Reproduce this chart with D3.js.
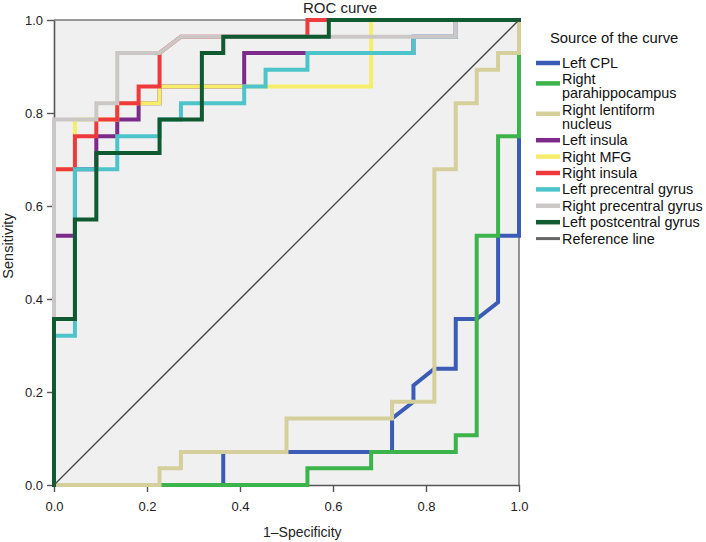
<!DOCTYPE html>
<html>
<head>
<meta charset="utf-8">
<script src="https://cdn.jsdelivr.net/npm/d3@7"></script>
<style>
  html, body { margin: 0; padding: 0; background: #fff; }
  svg { display: block; font-family: "Liberation Sans", Arial, sans-serif; }
</style>
</head>
<body>
<svg id="chart" width="706" height="542"></svg>
<script>
// ---- data (1-specificity, sensitivity) step vertices ----
const leftCPL = [[0,0],[.364,0],[.364,.071],[.727,.071],[.727,.143],[.773,.179],[.773,.214],[.818,.25],[.864,.25],[.864,.357],[.909,.357],[.955,.393],[.955,.536],[1,.536],[1,1]];
const rightParahippocampus = [[0,0],[.545,0],[.545,.036],[.682,.036],[.682,.071],[.864,.071],[.864,.107],[.909,.107],[.909,.536],[.955,.536],[.955,.75],[1,.75],[1,1]];
const rightLentiform = [[0,0],[.227,0],[.227,.036],[.273,.036],[.273,.071],[.5,.071],[.5,.143],[.727,.143],[.727,.179],[.818,.179],[.818,.679],[.864,.679],[.864,.821],[.909,.821],[.909,.893],[.955,.893],[.955,.929],[1,.929],[1,1]];
const leftInsula = [[0,0],[0,.536],[.045,.536],[.045,.679],[.091,.679],[.091,.75],[.136,.75],[.136,.786],[.182,.786],[.182,.821],[.227,.821],[.227,.857],[.409,.857],[.409,.929],[.773,.929],[.773,.964],[.864,.964],[.864,1],[1,1]];
const rightMFG = [[0,0],[0,.679],[.045,.679],[.045,.786],[.136,.786],[.136,.821],[.227,.821],[.227,.857],[.682,.857],[.682,1],[1,1]];
const rightInsula = [[0,0],[0,.679],[.045,.679],[.045,.75],[.091,.75],[.091,.786],[.136,.786],[.136,.821],[.182,.821],[.182,.857],[.227,.857],[.227,.929],[.273,.964],[.545,.964],[.545,1],[1,1]];
const leftPrecentral = [[0,0],[0,.321],[.045,.321],[.045,.679],[.136,.679],[.136,.75],[.227,.75],[.227,.786],[.273,.786],[.273,.821],[.409,.821],[.409,.857],[.455,.857],[.455,.893],[.545,.893],[.545,.929],[.773,.929],[.773,.964],[.864,.964],[.864,1],[1,1]];
const rightPrecentral = [[0,0],[0,.786],[.091,.786],[.091,.821],[.136,.821],[.136,.929],[.227,.929],[.273,.964],[.864,.964],[.864,1],[1,1]];
const leftPostcentral = [[0,0],[0,.357],[.045,.357],[.045,.571],[.091,.571],[.091,.714],[.227,.714],[.227,.786],[.318,.786],[.318,.929],[.364,.929],[.364,.964],[.591,.964],[.591,1],[1,1]];
const referenceLine = [[0,0],[1,1]];

const seriesNames = ["Left CPL","Right parahippocampus","Right lentiform nucleus","Left insula","Right MFG","Right insula","Left precentral gyrus","Right precentral gyrus","Left postcentral gyrus","Reference line"];
const legendLines = [["Left CPL"],["Right","parahippocampus"],["Right lentiform","nucleus"],["Left insula"],["Right MFG"],["Right insula"],["Left precentral gyrus"],["Right precentral gyrus"],["Left postcentral gyrus"],["Reference line"]];
const seriesColors = ["#3a5cb6","#3cb44b","#d5cf9b","#7c2b8b","#f6ee6b","#ee3a3d","#4dc4c9","#cbc7c7","#0f5a30","#444444"];
const seriesData = [leftCPL,rightParahippocampus,rightLentiform,leftInsula,rightMFG,rightInsula,leftPrecentral,rightPrecentral,leftPostcentral,referenceLine];
const tickValues = [0,0.2,0.4,0.6,0.8,1.0];

// ---- layout ----
const svg = d3.select("#chart");
const x = d3.scaleLinear().domain([0,1]).range([54,519]);
const y = d3.scaleLinear().domain([0,1]).range([485,20]);

svg.append("rect").attr("x",x(0)).attr("y",y(1))
  .attr("width",x(1)-x(0)).attr("height",y(0)-y(1)).attr("fill","#f0f0f0");

// frame top/right
svg.append("line").attr("x1",x(0)).attr("x2",x(1)).attr("y1",y(1)).attr("y2",y(1))
  .attr("stroke","#7a7a7a").attr("stroke-width",1.6);
svg.append("line").attr("x1",x(1)).attr("x2",x(1)).attr("y1",y(1)).attr("y2",y(0))
  .attr("stroke","#7a7a7a").attr("stroke-width",1.6);

const xAxis = svg.append("g").attr("transform",`translate(0,${y(0)})`)
  .call(d3.axisBottom(x).tickValues(tickValues).tickFormat(d3.format(".1f")).tickSize(7).tickPadding(10).tickSizeOuter(0));
const yAxis = svg.append("g").attr("transform",`translate(${x(0)},0)`)
  .call(d3.axisLeft(y).tickValues(tickValues).tickFormat(d3.format(".1f")).tickSize(7).tickPadding(4).tickSizeOuter(0));
[xAxis,yAxis].forEach(g=>{
  g.selectAll("path.domain").attr("stroke","#555").attr("stroke-width",1.6);
  g.selectAll(".tick line").attr("stroke","#555").attr("stroke-width",1.4);
  g.selectAll(".tick text").attr("font-size",13).attr("fill","#222")
    .attr("font-family","'Liberation Sans', Arial, sans-serif");
});

const line = d3.line().x(d=>x(d[0])).y(d=>y(d[1]));
seriesData.forEach((data,i)=>{
  const isRef = i === seriesData.length-1;
  svg.append("path").datum(data).attr("d",line)
    .attr("fill","none").attr("stroke",seriesColors[i])
    .attr("stroke-width",isRef?1.3:4)
    .attr("stroke-linejoin","miter").attr("stroke-linecap",isRef?"butt":"square");
});

// titles
svg.append("text").attr("x",303).attr("y",12.5).attr("font-size",15).attr("fill","#222").text("ROC curve");
svg.append("text").attr("x",263).attr("y",537).attr("font-size",14).attr("fill","#222").text("1\u2013Specificity");
svg.append("text").attr("transform","translate(13,246) rotate(-90)").attr("text-anchor","middle")
  .attr("font-size",14.5).attr("fill","#222").text("Sensitivity");

// legend
const leg = svg.append("g");
leg.append("text").attr("x",550).attr("y",43).attr("font-size",14.8).attr("fill","#111").text("Source of the curve");
let ly = 63;
legendLines.forEach((lines,i)=>{
  const isRef = i === legendLines.length-1;
  const sy = lines.length>1 ? ly+4 : ly;
  leg.append("line").attr("x1",536).attr("x2",560).attr("y1",sy).attr("y2",sy)
    .attr("stroke",isRef?"#666":seriesColors[i]).attr("stroke-width",isRef?3:4.5);
  lines.forEach((t,k)=>{
    leg.append("text").attr("x",562).attr("y",ly+k*14+5).attr("font-size",14.4).attr("fill","#111").text(t);
  });
  ly += 16.4 + (lines.length-1)*14;
});
</script>
</body>
</html>
